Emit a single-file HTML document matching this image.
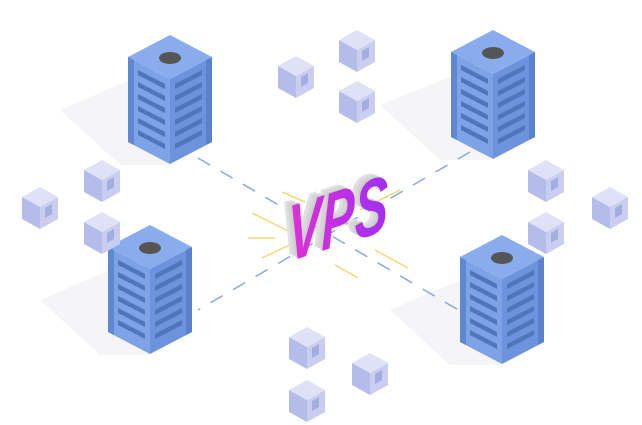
<!DOCTYPE html>
<html><head><style>html,body{margin:0;padding:0;background:#fff;width:642px;height:425px;overflow:hidden}</style></head>
<body>
<svg width="642" height="425" viewBox="0 0 642 425" xmlns="http://www.w3.org/2000/svg">
<defs>
<linearGradient id="g" x1="0" y1="0" x2="1" y2="0"><stop offset="0" stop-color="#e030d8"/><stop offset="1" stop-color="#a030f0"/></linearGradient>
<g id="srv">
 <polygon points="-42,23 0,45 0,130 -42,108" fill="#7da3e6"/>
 <polygon points="0,45 42,23 42,108 0,130" fill="#6c93dc"/>
 <polygon points="0,1 42,23 0,45 -42,23" fill="#89adec"/>
 <ellipse cx="0" cy="24" rx="11" ry="6" fill="#555"/>
 <polygon points="-42,23 -36,26 -36,111 -42,108" fill="#5f88d2"/>
 <polygon points="42,23 36,26 36,111 42,108" fill="#5a82cc"/>
 <g fill="#4f75bb">
  <polygon points="-32,36 -5,50 -5,55 -32,41"/><polygon points="-32,48 -5,62 -5,67 -32,53"/>
  <polygon points="-32,60 -5,74 -5,79 -32,65"/><polygon points="-32,72 -5,86 -5,91 -32,77"/>
  <polygon points="-32,84 -5,98 -5,103 -32,89"/><polygon points="-32,96 -5,110 -5,115 -32,101"/>
  <polygon points="5,50 32,36 32,41 5,55"/><polygon points="5,62 32,48 32,53 5,67"/>
  <polygon points="5,74 32,60 32,65 5,79"/><polygon points="5,86 32,72 32,77 5,91"/>
  <polygon points="5,98 32,84 32,89 5,103"/><polygon points="5,110 32,96 32,101 5,115"/>
 </g>
</g>
<g id="cube">
 <polygon points="-18,-10 0,0 0,22 -18,12" fill="#b4bce9"/>
 <polygon points="0,0 18,-10 18,12 0,22" fill="#c9cef0"/>
 <polygon points="0,-20 18,-10 0,0 -18,-10" fill="#dfe2f6"/>
 <polygon points="5,1 12,-3 12,7 5,11" fill="#a3addf"/>
</g>
</defs>
<g fill="#f5f5f7">
<polygon points="130,80 60,110 120,165 170,165"/>
<polygon points="455,75 380,105 440,160 490,160"/>
<polygon points="110,270 40,300 100,355 150,355"/>
<polygon points="460,280 390,310 450,365 500,365"/>
</g>
<g stroke="#88a8e4" stroke-width="1.5" stroke-dasharray="14,12">
<line x1="198" y1="158" x2="462" y2="312"/>
<line x1="470" y1="152" x2="198" y2="310"/>
</g>
<g stroke="#f5d777" stroke-width="1.5">
<line x1="252" y1="213" x2="290" y2="232"/><line x1="375" y1="250" x2="408" y2="268"/>
<line x1="262" y1="258" x2="300" y2="240"/><line x1="360" y1="210" x2="400" y2="190"/>
<line x1="282" y1="192" x2="305" y2="202"/><line x1="335" y1="265" x2="358" y2="278"/>
<line x1="248" y1="238" x2="275" y2="238"/>
</g>
<g transform="translate(288,262) skewY(-18) scale(1,1.6)" font-family="Liberation Sans, sans-serif" font-weight="bold" font-style="italic" font-size="50">
<text x="-8" y="-4" fill="#e0e0e0">VPS</text>
<text x="-5" y="-2.5" fill="#d6d6d6">VPS</text>
<text x="-2" y="-1" fill="#cdcdcd">VPS</text>
<text x="0" y="0" fill="url(#g)">VPS</text>
</g>
<use href="#srv" x="170" y="34"/>
<use href="#srv" x="493" y="29"/>
<use href="#srv" x="150" y="224"/>
<use href="#srv" x="502" y="234"/>
<use href="#cube" x="357" y="50"/>
<use href="#cube" x="296" y="76"/>
<use href="#cube" x="357" y="101"/>
<use href="#cube" x="102" y="180"/>
<use href="#cube" x="40" y="207"/>
<use href="#cube" x="102" y="232"/>
<use href="#cube" x="546" y="180"/>
<use href="#cube" x="610" y="207"/>
<use href="#cube" x="546" y="232"/>
<use href="#cube" x="307" y="347"/>
<use href="#cube" x="370" y="373"/>
<use href="#cube" x="307" y="400"/>
</svg>
</body></html>
